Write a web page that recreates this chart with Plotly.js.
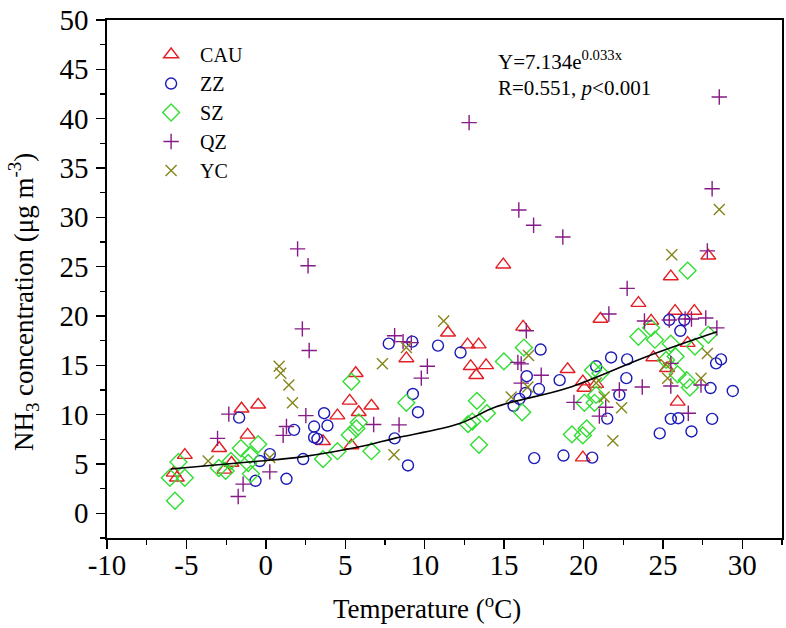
<!DOCTYPE html>
<html>
<head>
<meta charset="utf-8">
<script src="https://cdn.plot.ly/plotly-3.0.1.min.js"></script>
<style>html,body{margin:0;padding:0;background:#fff;}#chart{width:786px;height:628px;}</style>
</head>
<body>
<div id="chart"></div>
<script>
// ---- Data ----
var cauX = [-5.8,-5.6,-5.1,-2.94,-2.6,-2.16,-1.53,-1.15,-0.48,3.6,4.51,5.28,5.39,5.66,5.85,6.65,8.85,11.47,12.7,12.9,13.25,13.4,13.87,14.95,16.2,19.0,19.96,20.06,20.8,19.96,21.07,23.46,24.26,24.4,25.26,25.5,25.77,25.93,26.56,26.98,27.86];
var cauY = [4.1,3.6,5.9,6.6,4.4,5.1,10.6,7.95,11.0,7.3,9.9,11.4,6.87,14.2,10.25,10.9,15.7,18.3,17.1,14.9,14.0,17.1,15.0,25.2,18.9,14.6,13.35,12.7,13.1,5.65,19.7,21.3,19.5,15.8,14.7,24.0,20.5,11.3,17.25,20.5,26.1];

var zzX = [-1.68,-0.65,-0.38,0.25,1.3,1.78,2.35,3.04,3.04,3.25,3.67,3.88,7.74,8.11,8.95,9.22,9.26,9.58,10.84,12.26,15.6,15.97,16.35,16.43,16.9,17.2,17.3,18.5,18.74,20.55,20.8,21.5,21.74,22.26,22.7,22.75,24.8,25.4,25.5,25.97,26.1,26.35,26.8,28.0,28.1,28.35,28.66,29.4];
var zzY = [9.7,3.3,5.3,6.0,3.5,8.46,5.5,8.8,7.7,7.55,10.15,8.9,17.2,7.6,4.85,17.4,12.1,10.25,17.0,16.3,10.9,11.6,12.2,13.9,5.6,12.6,16.6,13.5,5.86,5.65,14.9,9.6,15.8,12.0,13.7,15.6,8.1,19.6,9.57,9.64,18.5,19.6,8.3,12.7,9.57,15.2,15.6,12.4];

var szX = [-6.04,-5.72,-5.5,-5.1,-2.96,-2.53,-2.2,-1.57,-1.11,-1.0,-0.94,-0.48,3.6,4.51,5.28,5.39,5.7,5.85,6.65,8.85,12.73,13.0,13.29,13.42,13.92,14.99,16.14,16.25,19.27,19.96,20.2,20.06,20.7,20.8,20.6,21.07,23.46,24.26,24.5,25.2,25.5,25.8,25.93,26.5,26.56,26.7,27.02,27.86];
var szY = [3.6,1.27,5.2,3.6,4.6,4.3,5.3,6.6,5.1,5.9,4.0,7.0,5.5,6.3,7.95,13.35,8.6,9.2,6.3,11.2,9.04,9.3,11.4,6.94,10.15,15.4,10.25,16.8,8.0,7.9,8.6,11.2,11.2,12.0,14.5,14.2,17.9,18.8,17.6,15.55,17.2,15.9,14.1,13.5,24.6,12.75,16.9,18.1];

var qzX = [-3.04,-2.33,-1.74,-1.43,0.25,1.09,1.3,2.0,2.3,2.52,2.66,2.73,6.79,8.11,8.39,8.64,9.16,9.79,10.17,12.8,15.87,15.93,16.08,16.08,16.4,16.86,17.34,18.7,19.4,21.0,21.4,21.6,22.26,22.75,23.7,23.84,25.4,25.5,25.5,26.4,26.6,26.8,27.4,27.7,27.8,28.1,28.4,28.55];
var qzY = [7.6,10.05,1.7,2.96,4.2,7.9,8.8,26.8,18.7,9.9,25.1,16.5,9.0,18.0,8.97,17.4,17.3,13.7,14.9,39.6,15.3,30.75,13.2,15.15,18.5,29.2,14.0,28.0,11.25,9.85,10.75,20.2,12.5,22.8,12.8,19.5,19.6,15.2,12.9,19.7,10.15,19.7,13.0,19.8,26.6,32.9,18.8,42.2];

var ycX = [-3.63,0.25,0.84,0.94,1.45,1.68,7.34,8.07,8.85,11.2,15.45,16.5,16.54,20.8,21.3,21.85,22.4,25.2,25.3,25.56,27.4,27.8,28.55];
var ycY = [5.3,5.65,14.9,14.2,13.0,11.2,15.15,5.93,16.8,19.5,11.8,12.8,16.0,13.2,11.8,7.35,10.7,15.05,13.7,26.2,13.7,16.2,30.8];

// fitted curve as drawn in the picture
var fitX = [-6,-0.7,2.35,6.2,8.1,12.2,14.5,19,24,28.4];
var fitY = [4.5,5.25,5.75,6.85,7.6,9.1,10.8,12.7,15.9,18.4];

var seriesNames = ['CAU','ZZ','SZ','QZ','YC'];

// tick labels
var xTickVals = [-10,-5,0,5,10,15,20,25,30];
var xTickText = ['-10','-5','0','5','10','15','20','25','30'];
var yTickVals = [0,5,10,15,20,25,30,35,40,45,50];
var yTickText = ['0','5','10','15','20','25','30','35','40','45','50'];

// ---- Styles ----
var FONT = 'Liberation Serif, Times New Roman, serif';
function sc(name, x, y, symbol, color, size) {
  return {type:'scatter', mode:'markers', name:name, x:x, y:y,
    marker:{symbol:symbol, size:size, color:color, line:{color:color, width:1.4}}};
}
var traces = [
  sc(seriesNames[0], cauX, cauY, 'triangle-up-open', '#e31e24', 13),
  sc(seriesNames[1], zzX, zzY, 'circle-open', '#1a1ab8', 11),
  sc(seriesNames[2], szX, szY, 'diamond-open', '#33dd33', 13),
  sc(seriesNames[3], qzX, qzY, 'cross-thin-open', '#861a86', 11),
  sc(seriesNames[4], ycX, ycY, 'x-thin-open', '#85851a', 11),
  {type:'scatter', mode:'lines', x:fitX, y:fitY, showlegend:false,
   line:{color:'#000', width:1.6, shape:'spline'}}
];

var axisCommon = {
  showgrid:false, zeroline:false, showline:true, linecolor:'#000', linewidth:1.6,
  mirror:true, ticks:'outside', ticklen:9, tickwidth:1.4, tickcolor:'#000',
  tickfont:{family:FONT, size:29, color:'#000'}, tickmode:'array',
  minor:{ticks:'outside', ticklen:5, tickwidth:1.2, tickcolor:'#000', dtick:2.5, showgrid:false}
};

var layout = {
  width:786, height:628,
  margin:{l:107, r:4, t:20, b:90},
  paper_bgcolor:'#fff', plot_bgcolor:'#fff',
  font:{family:FONT, color:'#000'},
  xaxis: Object.assign({}, axisCommon, {
    range:[-10, 32.5], tickvals:xTickVals, ticktext:xTickText, ticklabelstandoff:-8
  }),
  yaxis: Object.assign({}, axisCommon, {
    range:[-2.5, 50], tickvals:yTickVals, ticktext:yTickText, ticklabelstandoff:2
  }),
  legend:{x:0.052, y:0.971, xanchor:'left', yanchor:'top', bgcolor:'rgba(0,0,0,0)',
    font:{family:FONT, size:20, color:'#000'}, tracegroupgap:0, itemwidth:48},
  annotations:[
    {xref:'paper', yref:'paper', x:0.576, y:0.922, xanchor:'left', yanchor:'middle', showarrow:false,
     text:'Y=7.134e<sup>0.033x</sup>', font:{family:FONT, size:21, color:'#000'}},
    {xref:'paper', yref:'paper', x:0.576, y:0.869, xanchor:'left', yanchor:'middle', showarrow:false,
     text:'R=0.551, <i>p</i>&lt;0.001', font:{family:FONT, size:21, color:'#000'}},
    {xref:'paper', yref:'paper', x:0.474, y:-0.133, xanchor:'center', yanchor:'middle', showarrow:false,
     text:'Temperature (<sup>o</sup>C)', font:{family:FONT, size:27, color:'#000'}},
    {xref:'paper', yref:'paper', x:-0.124, y:0.456, xanchor:'center', yanchor:'middle', showarrow:false,
     textangle:-90, text:'NH<sub>3</sub> concentration (μg m<sup>-3</sup>)', font:{family:FONT, size:27, color:'#000'}}
  ]
};

Plotly.newPlot('chart', traces, layout, {displayModeBar:false, staticPlot:true});
</script>
</body>
</html>
